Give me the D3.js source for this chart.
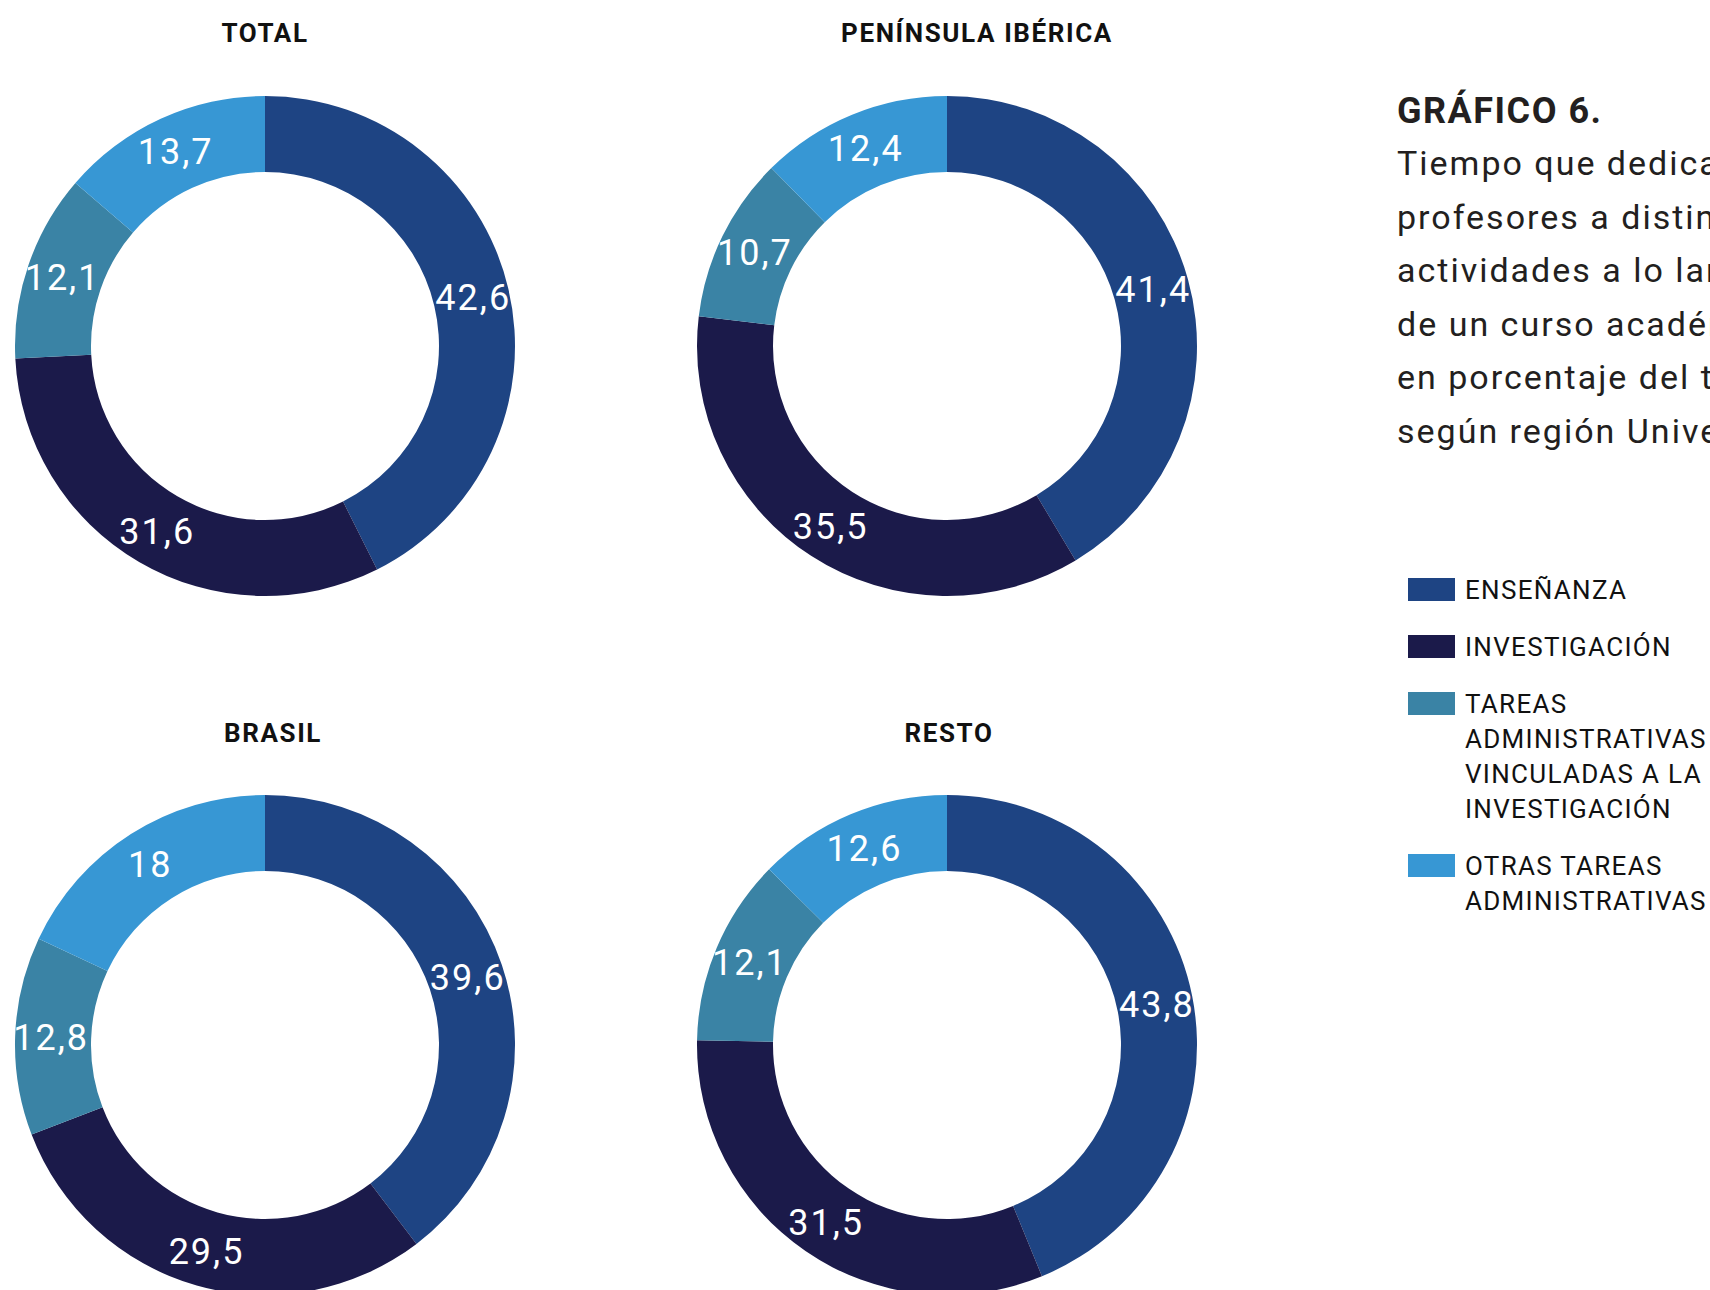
<!DOCTYPE html>
<html>
<head>
<meta charset="utf-8">
<script src="https://cdn.jsdelivr.net/npm/d3@7"></script>
<style>
  html, body { margin: 0; padding: 0; background: #fff; overflow: hidden; }
  svg { display: block; }
  text { font-family: Roboto, "Noto Sans", sans-serif; }
</style>
</head>
<body>
<div id="chart"></div>
<script>
// categories (legend order = slice order, clockwise from 12 o'clock)
const categories = ["ENSEÑANZA", "INVESTIGACIÓN", "TAREAS ADMINISTRATIVAS VINCULADAS A LA INVESTIGACIÓN", "OTRAS TAREAS ADMINISTRATIVAS"];
const legendLines = [["ENSEÑANZA"], ["INVESTIGACIÓN"], ["TAREAS", "ADMINISTRATIVAS", "VINCULADAS A LA", "INVESTIGACIÓN"], ["OTRAS TAREAS", "ADMINISTRATIVAS"]];
const colors = ["#1e4483", "#1b1a4a", "#3a83a5", "#3797d4"];

// regions and their values (% of time)
const regions = ["TOTAL", "PENÍNSULA IBÉRICA", "BRASIL", "RESTO"];
const total = [42.6, 31.6, 12.1, 13.7];
const peninsula = [41.4, 35.5, 10.7, 12.4];
const brasil = [39.6, 29.5, 12.8, 18];
const resto = [43.8, 31.5, 12.1, 12.6];
const values = [total, peninsula, brasil, resto];

const titleText = "GRÁFICO 6.";
const subtitleLines = ["Tiempo que dedican los", "profesores a distintas", "actividades a lo largo", "de un curso académico", "en porcentaje del tiempo", "según región Universia"];

const width = 1710, height = 1290;

// layout of the 2x2 grid
const cols = [265, 947], rows = [346, 1045];
const titleX = [265, 977, 273, 949];
const titleY = [42, 742];
const outerR = 250, innerR = 174;

const svg = d3.select("#chart")
  .append("svg")
  .attr("width", width)
  .attr("height", height);

const color = d3.scaleOrdinal().domain(categories).range(colors);

const pie = d3.pie().sort(null).value(function (d) { return d.value; });
const arc = d3.arc().innerRadius(innerR).outerRadius(outerR);
const labelArc = d3.arc().innerRadius(214).outerRadius(214);

const fmt = function (v) { return String(v).replace(".", ","); };

regions.forEach(function (name, i) {
  const cx = cols[i % 2], cy = rows[Math.floor(i / 2)];
  const data = values[i].map(function (v, j) { return { key: categories[j], value: v }; });

  // region title
  svg.append("text")
    .attr("x", titleX[i])
    .attr("y", titleY[Math.floor(i / 2)])
    .attr("text-anchor", "middle")
    .attr("font-size", 26)
    .attr("font-weight", 700)
    .attr("letter-spacing", 1.6)
    .attr("fill", "#111")
    .text(name);

  const g = svg.append("g").attr("transform", "translate(" + cx + "," + cy + ")");

  const slices = pie(data);

  g.selectAll("path")
    .data(slices)
    .enter().append("path")
    .attr("d", arc)
    .attr("fill", function (d) { return color(d.data.key); });

  g.selectAll("text")
    .data(slices)
    .enter().append("text")
    .attr("transform", function (d) { return "translate(" + labelArc.centroid(d) + ")"; })
    .attr("text-anchor", "middle")
    .attr("dy", "0.36em")
    .attr("font-size", 36)
    .attr("font-weight", 400)
    .attr("letter-spacing", 2)
    .attr("fill", "#fff")
    .text(function (d) { return fmt(d.data.value); });
});

// title block on the right (runs off the page edge, as in the source)
const side = svg.append("g").attr("transform", "translate(1397,0)");
side.append("text")
  .attr("y", 123)
  .attr("font-size", 36)
  .attr("font-weight", 700)
  .attr("letter-spacing", 1.5)
  .attr("fill", "#231f20")
  .text(titleText);

side.selectAll(".sub")
  .data(subtitleLines)
  .enter().append("text")
  .attr("class", "sub")
  .attr("y", function (d, i) { return 175 + i * 53.5; })
  .attr("font-size", 34)
  .attr("letter-spacing", 2)
  .attr("fill", "#231f20")
  .text(function (d) { return d; });

// legend
const lineH = 35, itemGap = 22;
let yPos = 590;
const legend = svg.append("g");
legendLines.forEach(function (lines, i) {
  const item = legend.append("g").attr("transform", "translate(0," + yPos + ")");
  item.append("rect")
    .attr("x", 1408)
    .attr("y", -12)
    .attr("width", 47)
    .attr("height", 23)
    .attr("fill", color(categories[i]));
  item.selectAll("text")
    .data(lines)
    .enter().append("text")
    .attr("x", 1465)
    .attr("y", function (d, k) { return k * lineH; })
    .attr("dy", "0.36em")
    .attr("font-size", 26)
    .attr("letter-spacing", 1.3)
    .attr("fill", "#111")
    .text(function (d) { return d; });
  yPos += lines.length * lineH + itemGap;
});
</script>
</body>
</html>
